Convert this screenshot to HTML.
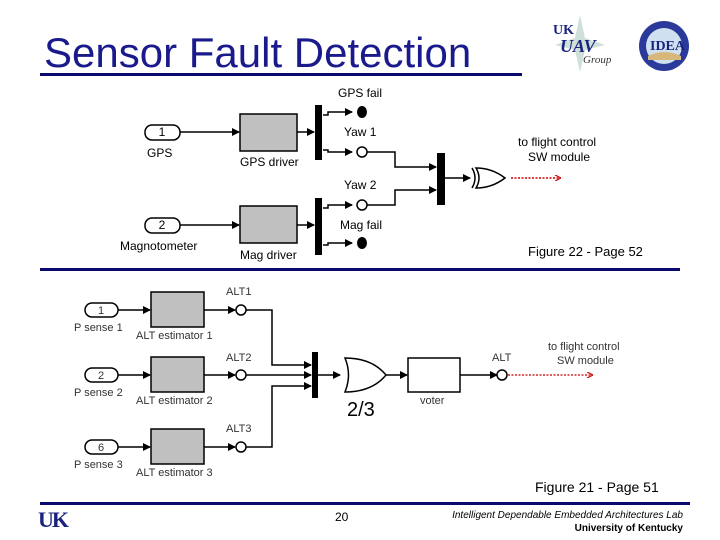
<!DOCTYPE html>
<html><head><meta charset="utf-8"><style>
html,body{margin:0;padding:0;background:#fff;}
svg{display:block;font-family:"Liberation Sans",Arial,sans-serif;}
</style></head><body>
<svg width="720" height="540" viewBox="0 0 720 540" xmlns="http://www.w3.org/2000/svg">
<defs>
<marker id="a" markerWidth="8" markerHeight="8" refX="7" refY="4" orient="auto" markerUnits="userSpaceOnUse"><path d="M0,0 L8,4 L0,8 Z" fill="#000"/></marker>
<marker id="r" markerWidth="6" markerHeight="6" refX="5" refY="3" orient="auto" markerUnits="userSpaceOnUse"><path d="M0,0 L6,3 L0,6" fill="none" stroke="#c00" stroke-width="1.2"/></marker>
</defs>
<text x="44" y="67" font-size="42" fill="#1a1a8c">Sensor Fault Detection</text>
<rect x="40" y="73" width="482" height="3" fill="#0a0a6e"/>
<polygon points="580,15 585,38 605,45 585,50 580,72 575,50 555,45 575,38" fill="#b9d3c8" opacity="0.7"/>
<text x="553" y="34" font-size="14" font-weight="bold" font-family="Liberation Serif,serif" fill="#1a237e">UK</text>
<text x="560" y="52" font-size="18" font-weight="bold" font-style="italic" font-family="Liberation Serif,serif" fill="#1a237e">UAV</text>
<text x="583" y="63" font-size="11" font-style="italic" font-family="Liberation Serif,serif" fill="#333">Group</text>
<circle cx="664" cy="46" r="25" fill="#2b3a9a"/>
<circle cx="664" cy="46" r="18" fill="#cfe0f0"/>
<path d="M648,56 Q664,48 681,56 L681,60 L648,60Z" fill="#d8b87a"/>
<text x="650" y="50" font-size="14" font-weight="bold" font-family="Liberation Serif,serif" fill="#1a237e">IDEA</text>
<g stroke="#000" stroke-width="1.5" fill="none">
<rect x="145" y="125" width="35" height="15" rx="7"/>
<rect x="145" y="218" width="35" height="15" rx="7"/>
<line x1="180" y1="132" x2="239" y2="132" marker-end="url(#a)"/>
<line x1="180" y1="225" x2="239" y2="225" marker-end="url(#a)"/>
<line x1="297" y1="132" x2="314" y2="132" marker-end="url(#a)"/>
<line x1="297" y1="225" x2="314" y2="225" marker-end="url(#a)"/>
<polyline points="323,115 328,115 328,112 352,112" marker-end="url(#a)"/>
<polyline points="323,150 328,150 328,152 352,152" marker-end="url(#a)"/>
<polyline points="323,208 328,208 328,205 352,205" marker-end="url(#a)"/>
<polyline points="323,245 328,245 328,243 352,243" marker-end="url(#a)"/>
<polyline points="367,152 395,152 395,167 436,167" marker-end="url(#a)"/>
<polyline points="367,205 395,205 395,190 436,190" marker-end="url(#a)"/>
<line x1="445" y1="178" x2="470" y2="178" marker-end="url(#a)"/>
<circle cx="362" cy="152" r="5" fill="#fff"/>
<circle cx="362" cy="205" r="5" fill="#fff"/>
<path d="M476,168 Q492,168 505,178 Q492,188 476,188 Q482,178 476,168Z" fill="#fff"/>
<path d="M472,168 Q478,178 472,188"/>
</g>
<rect x="240" y="114" width="57" height="37" fill="#c0c0c0" stroke="#000" stroke-width="1.5"/>
<rect x="240" y="206" width="57" height="37" fill="#c0c0c0" stroke="#000" stroke-width="1.5"/>
<rect x="315" y="105" width="7" height="55" fill="#000"/>
<rect x="315" y="198" width="7" height="57" fill="#000"/>
<rect x="437" y="153" width="8" height="52" fill="#000"/>
<ellipse cx="362" cy="112" rx="5" ry="6" fill="#000"/>
<ellipse cx="362" cy="243" rx="5" ry="6" fill="#000"/>
<line x1="511" y1="178" x2="560" y2="178" stroke="#c00" stroke-width="1.5" stroke-dasharray="2,1.5" marker-end="url(#r)"/>
<g font-size="12" fill="#000">
<text x="162" y="136" text-anchor="middle">1</text>
<text x="162" y="229" text-anchor="middle">2</text>
<text x="147" y="157">GPS</text>
<text x="120" y="250">Magnotometer</text>
<text x="240" y="166">GPS driver</text>
<text x="240" y="259">Mag driver</text>
<text x="338" y="97">GPS fail</text>
<text x="344" y="136">Yaw 1</text>
<text x="344" y="189">Yaw 2</text>
<text x="340" y="229">Mag fail</text>
<text x="518" y="146">to flight control</text>
<text x="528" y="161">SW module</text>
</g>
<text x="528" y="256" font-size="13">Figure 22 - Page 52</text>
<rect x="40" y="268" width="640" height="3" fill="#0a0a6e"/>
<g stroke="#000" stroke-width="1.5" fill="none">
<rect x="85" y="303" width="33" height="14" rx="7"/>
<rect x="85" y="368" width="33" height="14" rx="7"/>
<rect x="85" y="440" width="33" height="14" rx="7"/>
<line x1="118" y1="310" x2="150" y2="310" marker-end="url(#a)"/>
<line x1="118" y1="375" x2="150" y2="375" marker-end="url(#a)"/>
<line x1="118" y1="447" x2="150" y2="447" marker-end="url(#a)"/>
<line x1="204" y1="310" x2="235" y2="310" marker-end="url(#a)"/>
<line x1="204" y1="375" x2="235" y2="375" marker-end="url(#a)"/>
<line x1="204" y1="447" x2="235" y2="447" marker-end="url(#a)"/>
<polyline points="246,310 272,310 272,365 311,365" marker-end="url(#a)"/>
<line x1="246" y1="375" x2="311" y2="375" marker-end="url(#a)"/>
<polyline points="246,447 272,447 272,386 311,386" marker-end="url(#a)"/>
<line x1="318" y1="375" x2="340" y2="375" marker-end="url(#a)"/>
<line x1="386" y1="375" x2="407" y2="375" marker-end="url(#a)"/>
<line x1="460" y1="375" x2="497" y2="375" marker-end="url(#a)"/>
<circle cx="241" cy="310" r="5" fill="#fff"/>
<circle cx="241" cy="375" r="5" fill="#fff"/>
<circle cx="241" cy="447" r="5" fill="#fff"/>
<circle cx="502" cy="375" r="5" fill="#fff"/>
<path d="M345,358 Q372,358 386,375 Q372,392 345,392 Q352,375 345,358Z" fill="#fff"/>
<rect x="408" y="358" width="52" height="34" fill="#fff"/>
</g>
<rect x="151" y="292" width="53" height="35" fill="#c0c0c0" stroke="#000" stroke-width="1.5"/>
<rect x="151" y="357" width="53" height="35" fill="#c0c0c0" stroke="#000" stroke-width="1.5"/>
<rect x="151" y="429" width="53" height="35" fill="#c0c0c0" stroke="#000" stroke-width="1.5"/>
<rect x="312" y="352" width="6" height="46" fill="#000"/>
<line x1="508" y1="375" x2="592" y2="375" stroke="#c00" stroke-width="1.2" stroke-dasharray="2,1.5" marker-end="url(#r)"/>
<g font-size="11" fill="#333">
<text x="101" y="314" text-anchor="middle">1</text>
<text x="101" y="379" text-anchor="middle">2</text>
<text x="101" y="451" text-anchor="middle">6</text>
<text x="74" y="331">P sense 1</text>
<text x="74" y="396">P sense 2</text>
<text x="74" y="468">P sense 3</text>
<text x="136" y="339">ALT estimator 1</text>
<text x="136" y="404">ALT estimator 2</text>
<text x="136" y="476">ALT estimator 3</text>
<text x="226" y="295">ALT1</text>
<text x="226" y="361">ALT2</text>
<text x="226" y="432">ALT3</text>
<text x="492" y="361">ALT</text>
<text x="420" y="404">voter</text>
<text x="548" y="350">to flight control</text>
<text x="557" y="364">SW module</text>
</g>
<text x="347" y="416" font-size="20" fill="#000">2/3</text>
<text x="535" y="492" font-size="14">Figure 21 - Page 51</text>
<rect x="40" y="502" width="650" height="3" fill="#0a0a6e"/>
<text x="38" y="527" font-size="22" font-weight="bold" font-family="Liberation Serif,serif" fill="#1a237e" letter-spacing="-2">UK</text>
<text x="335" y="521" font-size="12">20</text>
<text x="683" y="518" font-size="10" font-style="italic" text-anchor="end">Intelligent Dependable Embedded Architectures Lab</text>
<text x="683" y="531" font-size="10" font-weight="bold" text-anchor="end">University of Kentucky</text>
</svg>
</body></html>
